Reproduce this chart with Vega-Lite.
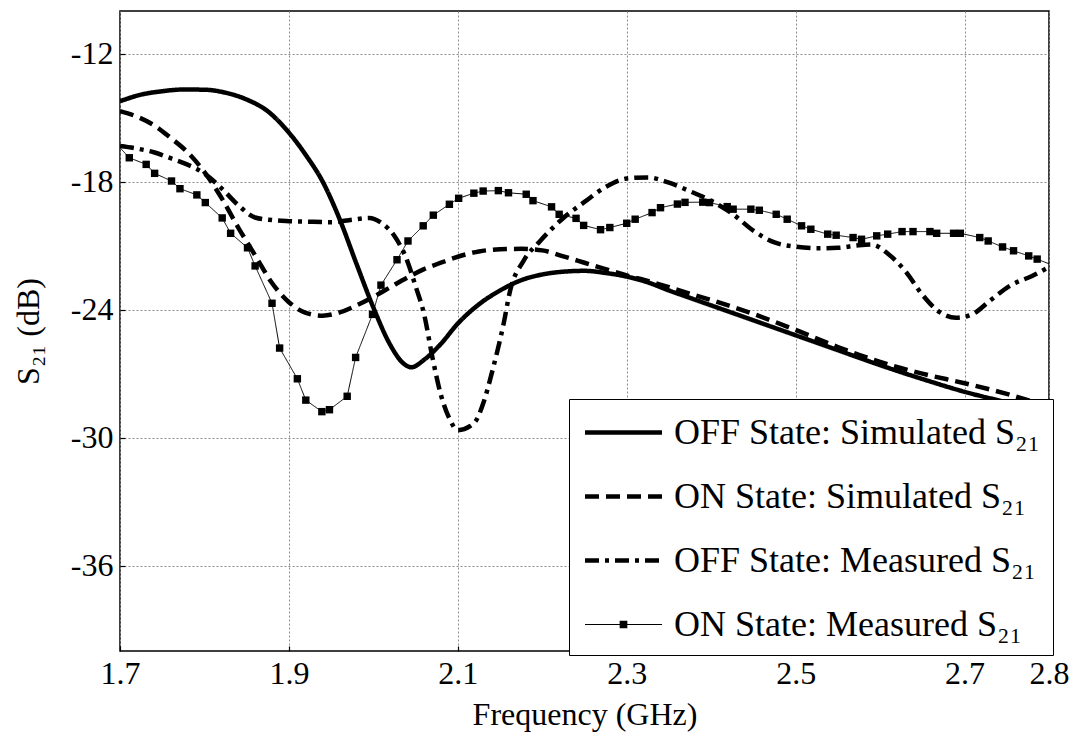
{
  "$schema": "https://vega.github.io/schema/vega-lite/v6.json",
  "width": 929,
  "height": 640,
  "autosize": {"type": "none"},
  "padding": {"left": 120, "top": 11, "right": 22, "bottom": 86},
  "background": "white",
  "datasets": {
    "s21": [
      {"f": 1.700, "s": -14.23, "series": "OFF Simulated"},
      {"f": 1.725, "s": -13.92, "series": "OFF Simulated"},
      {"f": 1.750, "s": -13.76, "series": "OFF Simulated"},
      {"f": 1.775, "s": -13.68, "series": "OFF Simulated"},
      {"f": 1.800, "s": -13.69, "series": "OFF Simulated"},
      {"f": 1.825, "s": -13.83, "series": "OFF Simulated"},
      {"f": 1.850, "s": -14.15, "series": "OFF Simulated"},
      {"f": 1.875, "s": -14.70, "series": "OFF Simulated"},
      {"f": 1.900, "s": -15.70, "series": "OFF Simulated"},
      {"f": 1.920, "s": -16.75, "series": "OFF Simulated"},
      {"f": 1.940, "s": -18.00, "series": "OFF Simulated"},
      {"f": 1.960, "s": -19.75, "series": "OFF Simulated"},
      {"f": 1.980, "s": -21.85, "series": "OFF Simulated"},
      {"f": 2.000, "s": -23.90, "series": "OFF Simulated"},
      {"f": 2.020, "s": -25.65, "series": "OFF Simulated"},
      {"f": 2.035, "s": -26.50, "series": "OFF Simulated"},
      {"f": 2.045, "s": -26.70, "series": "OFF Simulated"},
      {"f": 2.060, "s": -26.35, "series": "OFF Simulated"},
      {"f": 2.080, "s": -25.60, "series": "OFF Simulated"},
      {"f": 2.100, "s": -24.65, "series": "OFF Simulated"},
      {"f": 2.125, "s": -23.75, "series": "OFF Simulated"},
      {"f": 2.150, "s": -23.10, "series": "OFF Simulated"},
      {"f": 2.175, "s": -22.62, "series": "OFF Simulated"},
      {"f": 2.200, "s": -22.35, "series": "OFF Simulated"},
      {"f": 2.225, "s": -22.22, "series": "OFF Simulated"},
      {"f": 2.250, "s": -22.18, "series": "OFF Simulated"},
      {"f": 2.275, "s": -22.28, "series": "OFF Simulated"},
      {"f": 2.300, "s": -22.45, "series": "OFF Simulated"},
      {"f": 2.325, "s": -22.72, "series": "OFF Simulated"},
      {"f": 2.350, "s": -23.10, "series": "OFF Simulated"},
      {"f": 2.375, "s": -23.45, "series": "OFF Simulated"},
      {"f": 2.400, "s": -23.80, "series": "OFF Simulated"},
      {"f": 2.450, "s": -24.50, "series": "OFF Simulated"},
      {"f": 2.500, "s": -25.20, "series": "OFF Simulated"},
      {"f": 2.550, "s": -25.90, "series": "OFF Simulated"},
      {"f": 2.600, "s": -26.60, "series": "OFF Simulated"},
      {"f": 2.650, "s": -27.25, "series": "OFF Simulated"},
      {"f": 2.700, "s": -27.85, "series": "OFF Simulated"},
      {"f": 2.750, "s": -28.35, "series": "OFF Simulated"},
      {"f": 2.800, "s": -28.85, "series": "OFF Simulated"},

      {"f": 1.700, "s": -14.70, "series": "ON Simulated"},
      {"f": 1.720, "s": -14.95, "series": "ON Simulated"},
      {"f": 1.740, "s": -15.35, "series": "ON Simulated"},
      {"f": 1.760, "s": -15.95, "series": "ON Simulated"},
      {"f": 1.780, "s": -16.62, "series": "ON Simulated"},
      {"f": 1.800, "s": -17.55, "series": "ON Simulated"},
      {"f": 1.820, "s": -18.75, "series": "ON Simulated"},
      {"f": 1.840, "s": -20.15, "series": "ON Simulated"},
      {"f": 1.860, "s": -21.45, "series": "ON Simulated"},
      {"f": 1.880, "s": -22.75, "series": "ON Simulated"},
      {"f": 1.900, "s": -23.65, "series": "ON Simulated"},
      {"f": 1.920, "s": -24.15, "series": "ON Simulated"},
      {"f": 1.940, "s": -24.28, "series": "ON Simulated"},
      {"f": 1.960, "s": -24.13, "series": "ON Simulated"},
      {"f": 1.980, "s": -23.80, "series": "ON Simulated"},
      {"f": 2.000, "s": -23.40, "series": "ON Simulated"},
      {"f": 2.020, "s": -22.95, "series": "ON Simulated"},
      {"f": 2.040, "s": -22.50, "series": "ON Simulated"},
      {"f": 2.060, "s": -22.10, "series": "ON Simulated"},
      {"f": 2.080, "s": -21.80, "series": "ON Simulated"},
      {"f": 2.100, "s": -21.52, "series": "ON Simulated"},
      {"f": 2.125, "s": -21.27, "series": "ON Simulated"},
      {"f": 2.150, "s": -21.17, "series": "ON Simulated"},
      {"f": 2.175, "s": -21.15, "series": "ON Simulated"},
      {"f": 2.200, "s": -21.22, "series": "ON Simulated"},
      {"f": 2.225, "s": -21.50, "series": "ON Simulated"},
      {"f": 2.250, "s": -21.80, "series": "ON Simulated"},
      {"f": 2.275, "s": -22.10, "series": "ON Simulated"},
      {"f": 2.300, "s": -22.40, "series": "ON Simulated"},
      {"f": 2.325, "s": -22.65, "series": "ON Simulated"},
      {"f": 2.350, "s": -22.95, "series": "ON Simulated"},
      {"f": 2.375, "s": -23.25, "series": "ON Simulated"},
      {"f": 2.400, "s": -23.55, "series": "ON Simulated"},
      {"f": 2.450, "s": -24.20, "series": "ON Simulated"},
      {"f": 2.500, "s": -24.95, "series": "ON Simulated"},
      {"f": 2.550, "s": -25.75, "series": "ON Simulated"},
      {"f": 2.600, "s": -26.45, "series": "ON Simulated"},
      {"f": 2.650, "s": -27.00, "series": "ON Simulated"},
      {"f": 2.700, "s": -27.45, "series": "ON Simulated"},
      {"f": 2.750, "s": -27.95, "series": "ON Simulated"},
      {"f": 2.800, "s": -28.55, "series": "ON Simulated"},

      {"f": 1.700, "s": -16.33, "series": "OFF Measured"},
      {"f": 1.720, "s": -16.45, "series": "OFF Measured"},
      {"f": 1.740, "s": -16.62, "series": "OFF Measured"},
      {"f": 1.760, "s": -16.90, "series": "OFF Measured"},
      {"f": 1.780, "s": -17.20, "series": "OFF Measured"},
      {"f": 1.800, "s": -17.62, "series": "OFF Measured"},
      {"f": 1.820, "s": -18.30, "series": "OFF Measured"},
      {"f": 1.840, "s": -19.10, "series": "OFF Measured"},
      {"f": 1.860, "s": -19.68, "series": "OFF Measured"},
      {"f": 1.880, "s": -19.80, "series": "OFF Measured"},
      {"f": 1.900, "s": -19.85, "series": "OFF Measured"},
      {"f": 1.925, "s": -19.88, "series": "OFF Measured"},
      {"f": 1.950, "s": -19.90, "series": "OFF Measured"},
      {"f": 1.975, "s": -19.78, "series": "OFF Measured"},
      {"f": 1.995, "s": -19.70, "series": "OFF Measured"},
      {"f": 2.010, "s": -19.95, "series": "OFF Measured"},
      {"f": 2.025, "s": -20.55, "series": "OFF Measured"},
      {"f": 2.040, "s": -21.70, "series": "OFF Measured"},
      {"f": 2.050, "s": -22.90, "series": "OFF Measured"},
      {"f": 2.060, "s": -24.20, "series": "OFF Measured"},
      {"f": 2.070, "s": -26.25, "series": "OFF Measured"},
      {"f": 2.080, "s": -28.00, "series": "OFF Measured"},
      {"f": 2.090, "s": -29.10, "series": "OFF Measured"},
      {"f": 2.100, "s": -29.65, "series": "OFF Measured"},
      {"f": 2.115, "s": -29.45, "series": "OFF Measured"},
      {"f": 2.123, "s": -29.10, "series": "OFF Measured"},
      {"f": 2.130, "s": -28.40, "series": "OFF Measured"},
      {"f": 2.142, "s": -26.70, "series": "OFF Measured"},
      {"f": 2.154, "s": -24.70, "series": "OFF Measured"},
      {"f": 2.162, "s": -23.10, "series": "OFF Measured"},
      {"f": 2.178, "s": -21.70, "series": "OFF Measured"},
      {"f": 2.197, "s": -20.80, "series": "OFF Measured"},
      {"f": 2.225, "s": -19.70, "series": "OFF Measured"},
      {"f": 2.250, "s": -18.95, "series": "OFF Measured"},
      {"f": 2.275, "s": -18.25, "series": "OFF Measured"},
      {"f": 2.300, "s": -17.85, "series": "OFF Measured"},
      {"f": 2.325, "s": -17.80, "series": "OFF Measured"},
      {"f": 2.350, "s": -18.05, "series": "OFF Measured"},
      {"f": 2.375, "s": -18.45, "series": "OFF Measured"},
      {"f": 2.400, "s": -18.90, "series": "OFF Measured"},
      {"f": 2.425, "s": -19.50, "series": "OFF Measured"},
      {"f": 2.450, "s": -20.30, "series": "OFF Measured"},
      {"f": 2.475, "s": -20.85, "series": "OFF Measured"},
      {"f": 2.500, "s": -21.05, "series": "OFF Measured"},
      {"f": 2.525, "s": -21.12, "series": "OFF Measured"},
      {"f": 2.550, "s": -21.10, "series": "OFF Measured"},
      {"f": 2.575, "s": -20.98, "series": "OFF Measured"},
      {"f": 2.590, "s": -20.95, "series": "OFF Measured"},
      {"f": 2.610, "s": -21.40, "series": "OFF Measured"},
      {"f": 2.630, "s": -22.20, "series": "OFF Measured"},
      {"f": 2.650, "s": -23.30, "series": "OFF Measured"},
      {"f": 2.670, "s": -24.10, "series": "OFF Measured"},
      {"f": 2.690, "s": -24.38, "series": "OFF Measured"},
      {"f": 2.710, "s": -24.20, "series": "OFF Measured"},
      {"f": 2.730, "s": -23.58, "series": "OFF Measured"},
      {"f": 2.755, "s": -22.85, "series": "OFF Measured"},
      {"f": 2.780, "s": -22.42, "series": "OFF Measured"},
      {"f": 2.800, "s": -22.00, "series": "OFF Measured"},

      {"f": 1.700, "s": -16.41, "series": "ON Measured"},
      {"f": 1.711, "s": -16.88, "series": "ON Measured"},
      {"f": 1.731, "s": -17.19, "series": "ON Measured"},
      {"f": 1.741, "s": -17.61, "series": "ON Measured"},
      {"f": 1.761, "s": -17.97, "series": "ON Measured"},
      {"f": 1.771, "s": -18.33, "series": "ON Measured"},
      {"f": 1.791, "s": -18.62, "series": "ON Measured"},
      {"f": 1.801, "s": -18.98, "series": "ON Measured"},
      {"f": 1.821, "s": -19.70, "series": "ON Measured"},
      {"f": 1.831, "s": -20.42, "series": "ON Measured"},
      {"f": 1.851, "s": -21.10, "series": "ON Measured"},
      {"f": 1.860, "s": -21.95, "series": "ON Measured"},
      {"f": 1.880, "s": -23.70, "series": "ON Measured"},
      {"f": 1.889, "s": -25.80, "series": "ON Measured"},
      {"f": 1.910, "s": -27.24, "series": "ON Measured"},
      {"f": 1.920, "s": -28.24, "series": "ON Measured"},
      {"f": 1.939, "s": -28.78, "series": "ON Measured"},
      {"f": 1.948, "s": -28.69, "series": "ON Measured"},
      {"f": 1.969, "s": -28.06, "series": "ON Measured"},
      {"f": 1.979, "s": -26.24, "series": "ON Measured"},
      {"f": 1.999, "s": -24.22, "series": "ON Measured"},
      {"f": 2.009, "s": -22.85, "series": "ON Measured"},
      {"f": 2.028, "s": -21.66, "series": "ON Measured"},
      {"f": 2.041, "s": -20.78, "series": "ON Measured"},
      {"f": 2.059, "s": -20.07, "series": "ON Measured"},
      {"f": 2.071, "s": -19.57, "series": "ON Measured"},
      {"f": 2.090, "s": -19.06, "series": "ON Measured"},
      {"f": 2.101, "s": -18.78, "series": "ON Measured"},
      {"f": 2.119, "s": -18.54, "series": "ON Measured"},
      {"f": 2.130, "s": -18.44, "series": "ON Measured"},
      {"f": 2.148, "s": -18.42, "series": "ON Measured"},
      {"f": 2.160, "s": -18.52, "series": "ON Measured"},
      {"f": 2.181, "s": -18.59, "series": "ON Measured"},
      {"f": 2.189, "s": -18.89, "series": "ON Measured"},
      {"f": 2.211, "s": -19.18, "series": "ON Measured"},
      {"f": 2.220, "s": -19.53, "series": "ON Measured"},
      {"f": 2.240, "s": -19.72, "series": "ON Measured"},
      {"f": 2.249, "s": -20.05, "series": "ON Measured"},
      {"f": 2.269, "s": -20.25, "series": "ON Measured"},
      {"f": 2.280, "s": -20.15, "series": "ON Measured"},
      {"f": 2.300, "s": -19.95, "series": "ON Measured"},
      {"f": 2.310, "s": -19.76, "series": "ON Measured"},
      {"f": 2.330, "s": -19.45, "series": "ON Measured"},
      {"f": 2.340, "s": -19.22, "series": "ON Measured"},
      {"f": 2.360, "s": -19.05, "series": "ON Measured"},
      {"f": 2.369, "s": -18.97, "series": "ON Measured"},
      {"f": 2.390, "s": -18.96, "series": "ON Measured"},
      {"f": 2.398, "s": -18.98, "series": "ON Measured"},
      {"f": 2.419, "s": -19.17, "series": "ON Measured"},
      {"f": 2.426, "s": -19.29, "series": "ON Measured"},
      {"f": 2.447, "s": -19.29, "series": "ON Measured"},
      {"f": 2.457, "s": -19.34, "series": "ON Measured"},
      {"f": 2.477, "s": -19.53, "series": "ON Measured"},
      {"f": 2.490, "s": -19.76, "series": "ON Measured"},
      {"f": 2.507, "s": -20.07, "series": "ON Measured"},
      {"f": 2.518, "s": -20.23, "series": "ON Measured"},
      {"f": 2.538, "s": -20.46, "series": "ON Measured"},
      {"f": 2.548, "s": -20.51, "series": "ON Measured"},
      {"f": 2.568, "s": -20.62, "series": "ON Measured"},
      {"f": 2.578, "s": -20.70, "series": "ON Measured"},
      {"f": 2.596, "s": -20.54, "series": "ON Measured"},
      {"f": 2.609, "s": -20.46, "series": "ON Measured"},
      {"f": 2.626, "s": -20.34, "series": "ON Measured"},
      {"f": 2.639, "s": -20.34, "series": "ON Measured"},
      {"f": 2.659, "s": -20.34, "series": "ON Measured"},
      {"f": 2.667, "s": -20.42, "series": "ON Measured"},
      {"f": 2.687, "s": -20.42, "series": "ON Measured"},
      {"f": 2.695, "s": -20.42, "series": "ON Measured"},
      {"f": 2.718, "s": -20.62, "series": "ON Measured"},
      {"f": 2.728, "s": -20.78, "series": "ON Measured"},
      {"f": 2.745, "s": -21.06, "series": "ON Measured"},
      {"f": 2.758, "s": -21.24, "series": "ON Measured"},
      {"f": 2.776, "s": -21.48, "series": "ON Measured"},
      {"f": 2.786, "s": -21.63, "series": "ON Measured"},
      {"f": 2.800, "s": -21.85, "series": "ON Measured"}
    ]
  },
  "data": {"name": "s21"},
  "layer": [
    {
      "transform": [{"filter": "datum.series !== 'ON Measured'"}],
      "mark": {"type": "line", "interpolate": "monotone", "color": "black", "strokeWidth": 4.5, "clip": true},
      "encoding": {
        "x": {"field": "f", "type": "quantitative", "scale": {"domain": [1.7, 2.8], "nice": false, "zero": false},
              "axis": {"values": [1.7, 1.9, 2.1, 2.3, 2.5, 2.7, 2.8], "labelExpr": "format(datum.value, '.1f')", "title": "Frequency (GHz)"}},
        "y": {"field": "s", "type": "quantitative", "scale": {"domain": [-40, -10], "nice": false, "zero": false},
              "axis": {"values": [-36, -30, -24, -18, -12], "labelExpr": "'' + datum.value", "title": "S₂₁ (dB)"}},
        "strokeDash": {"field": "series", "type": "nominal",
          "scale": {"domain": ["OFF Simulated", "ON Simulated", "OFF Measured", "ON Measured"],
                    "range": [[1, 0], [14, 7], [14, 6, 4, 6], [1, 0]]},
          "legend": {"title": null, "orient": "none", "legendX": 449, "legendY": 388,
            "labelExpr": "replace(datum.label, ' ', ' State: ') + ' S₂₁'",
            "encode": {"symbols": {"update": {
              "shape": [{"test": "datum.value === 'ON Measured'", "value": "M-2,-0.026H2V0.026H-2ZM-0.2,-0.2H0.2V0.2H-0.2Z"}, {"value": "M-2,0H2"}],
              "fill": [{"test": "datum.value === 'ON Measured'", "value": "black"}, {"value": "transparent"}],
              "stroke": [{"test": "datum.value === 'ON Measured'", "value": "transparent"}, {"value": "black"}]}}}}}
      }
    },
    {
      "transform": [{"filter": "datum.series === 'ON Measured'"}],
      "mark": {"type": "line", "color": "black", "strokeWidth": 1, "clip": true},
      "encoding": {
        "x": {"field": "f", "type": "quantitative"},
        "y": {"field": "s", "type": "quantitative"},
        "strokeDash": {"field": "series", "type": "nominal"}
      }
    },
    {
      "transform": [{"filter": "datum.series === 'ON Measured' && datum.f > 1.705 && datum.f < 2.795"}],
      "mark": {"type": "point", "shape": "square", "filled": true, "color": "black", "size": 55, "opacity": 1, "clip": true},
      "encoding": {
        "x": {"field": "f", "type": "quantitative"},
        "y": {"field": "s", "type": "quantitative"}
      }
    }
  ],
  "config": {
    "view": {"stroke": "black", "strokeWidth": 1.5},
    "font": "Liberation Serif",
    "axis": {
      "labelFont": "Liberation Serif", "labelFontSize": 32, "labelColor": "black",
      "titleFont": "Liberation Serif", "titleFontSize": 32, "titleFontWeight": "normal", "titleColor": "black",
      "domain": false, "grid": true, "gridColor": "#8c8c8c", "gridDash": [2, 2], "gridWidth": 1,
      "ticks": true, "tickColor": "black", "tickSize": -5, "tickWidth": 1.2, "labelPadding": 12, "labelFlush": false
    },
    "axisX": {"titlePadding": 10},
    "axisY": {"titlePadding": 25},
    "legend": {
      "symbolType": "stroke", "symbolSize": 1482, "symbolStrokeColor": "black", "symbolStrokeWidth": 4.5,
      "symbolOffset": 21,
      "labelFont": "Liberation Serif", "labelFontSize": 36, "labelColor": "black", "labelLimit": 600,
      "fillColor": "white", "strokeColor": "black", "padding": 12, "rowPadding": 24, "labelOffset": 29
    }
  }
}
